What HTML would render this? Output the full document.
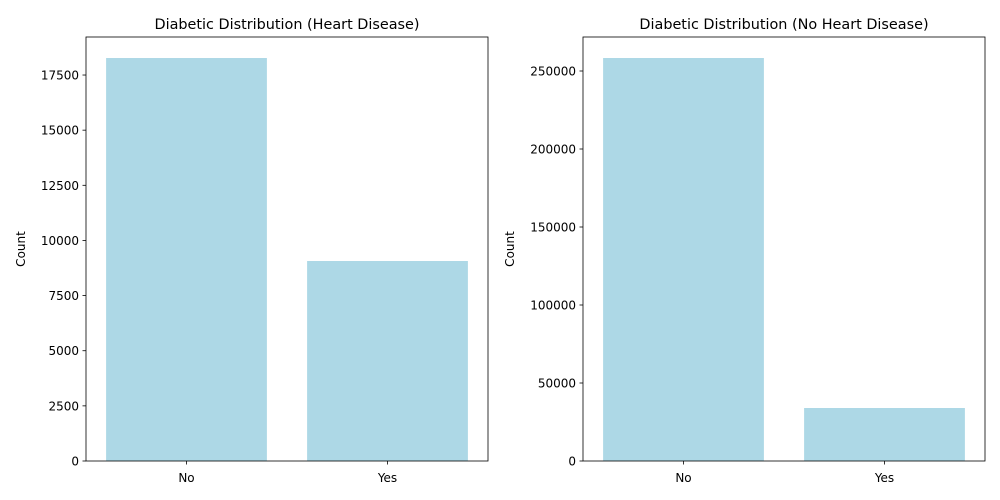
<!DOCTYPE html>
<html><head><meta charset="utf-8"><style>
html,body{margin:0;background:#fff;overflow:hidden;width:1000px;height:500px;}
svg{display:block;}
svg text{font-family:"DejaVu Sans","Liberation Sans",sans-serif;fill:#000;}
</style></head><body>
<svg id="chart" width="1000" height="500" xmlns="http://www.w3.org/2000/svg"></svg>
<script>
const categories = ["No", "Yes"];
const heartValues = [18271, 9068];
const noHeartValues = [258333, 33974];
const heartTicks = [0, 2500, 5000, 7500, 10000, 12500, 15000, 17500];
const noHeartTicks = [0, 50000, 100000, 150000, 200000, 250000];
const titles = ["Diabetic Distribution (Heart Disease)", "Diabetic Distribution (No Heart Disease)"];

const NS = "http://www.w3.org/2000/svg";
const svg = document.getElementById("chart");
function mk(tag, attrs, parent){const e=document.createElementNS(NS,tag);for(const k in attrs)e.setAttribute(k,attrs[k]);(parent||svg).appendChild(e);return e;}

function panel(x0, x1, y0, y1, values, ticks, yMax, title, prefix, labelX){
  const g = mk("g", {});
  
  
  const ys = v => y1 - v / yMax * (y1 - y0);
  const band = (x1 - x0) / categories.length;
  values.forEach((v, i) => {
    const bw = band * 0.8;
    const bx = x0 + band * i + band * 0.1;
    const r = mk("rect", {x: bx, y: ys(v), width: bw, height: y1 - ys(v), fill: "#add8e6"}, g);
    
    
    const cx = x0 + band * (i + 0.5);
    mk("line", {x1: cx, x2: cx, y1: y1, y2: y1 + 3.5, stroke: "#000", "stroke-width": 0.8}, g);
    const t = mk("text", {x: cx, y: y1 + 21, "text-anchor": "middle", "font-size": 12}, g);
    t.textContent = categories[i];
    
    
  });
  ticks.forEach(tv => {
    const y = ys(tv);
    mk("line", {x1: x0 - 3.5, x2: x0, y1: y, y2: y, stroke: "#000", "stroke-width": 0.8}, g);
    const t = mk("text", {x: x0 - 7, y: y + 4.5, "text-anchor": "end", "font-size": 12}, g);
    t.textContent = tv;
    
    
  });
  const fr = mk("rect", {x: x0, y: y0, width: x1 - x0, height: y1 - y0, fill: "none", stroke: "#000", "stroke-width": 0.8}, g);
  
  
  const tt = mk("text", {x: (x0 + x1) / 2, y: y0 - 8, "text-anchor": "middle", "font-size": 14.4}, g);
  tt.textContent = title;
  
  
  const yl = mk("text", {x: 0, y: 0, "text-anchor": "middle", "font-size": 12, transform: "translate(" + labelX + "," + ((y0 + y1) / 2) + ") rotate(-90)"}, g);
  yl.textContent = "Count";
  
  
}
panel(86, 488, 37, 461, heartValues, heartTicks, 19224, titles[0], 'left', 25);
panel(583, 985, 37, 461, noHeartValues, noHeartTicks, 271795, titles[1], 'right', 514);
</script>
</body></html>
